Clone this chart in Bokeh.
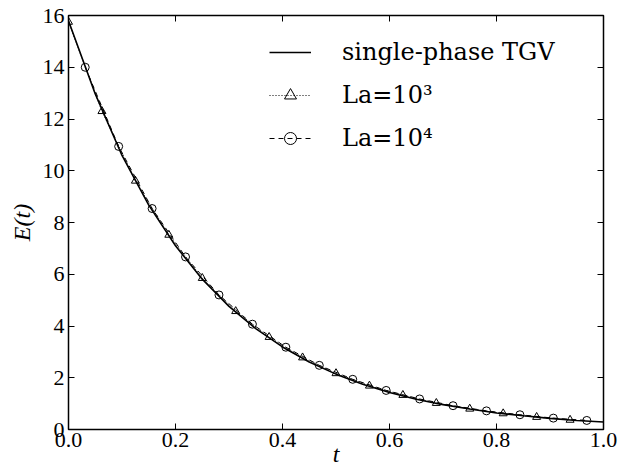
import math
from bokeh.plotting import figure
from bokeh.models import (Range1d, LinearAxis, Legend, LegendItem,
                          FixedTicker, CustomJSTickFormatter, PrintfTickFormatter)
from bokeh.embed import file_html
from bokeh.resources import INLINE

# ---- data ----
t_line = [0.0, 0.05, 0.10, 0.15, 0.20, 0.25, 0.30, 0.35, 0.40, 0.45, 0.50,
          0.55, 0.60, 0.65, 0.70, 0.75, 0.80, 0.85, 0.90, 0.95, 1.00]
E_line = [15.80, 12.97, 10.59, 8.67, 7.10, 5.81, 4.76, 3.90, 3.19, 2.61, 2.14,
          1.75, 1.43, 1.17, 0.96, 0.79, 0.64, 0.53, 0.43, 0.35, 0.29]

t_la3 = [0.0, 0.0625, 0.125, 0.1875, 0.25, 0.3125, 0.375, 0.4375, 0.5,
         0.5625, 0.625, 0.6875, 0.75, 0.8125, 0.875, 0.9375]
E_la3 = [15.75, 12.30, 9.61, 7.52, 5.85, 4.57, 3.57, 2.78, 2.17,
         1.69, 1.33, 1.02, 0.80, 0.62, 0.48, 0.37]

t_la4 = [0.03125, 0.09375, 0.15625, 0.21875, 0.28125, 0.34375, 0.40625, 0.46875,
         0.53125, 0.59375, 0.65625, 0.71875, 0.78125, 0.84375, 0.90625, 0.96875]
E_la4 = [14.00, 10.94, 8.54, 6.67, 5.20, 4.07, 3.18, 2.48,
         1.94, 1.51, 1.18, 0.92, 0.72, 0.57, 0.44, 0.35]

x_ticks = [0.0, 0.2, 0.4, 0.6, 0.8, 1.0]
y_ticks = [0, 2, 4, 6, 8, 10, 12, 14, 16]

labels = ["single-phase TGV", "La=10\u00b3", "La=10\u2074"]

TICK_FONT = "Liberation Serif"
AX_FONT = "Liberation Serif"
LEG_FONT = "DejaVu Serif"
TICK_SIZE = "22px"

p = figure(width=619, height=473, output_backend="svg", toolbar_location=None,
           x_range=Range1d(0, 1), y_range=Range1d(0, 16),
           min_border_left=68, min_border_right=16, min_border_top=15,
           min_border_bottom=44, x_axis_location=None, y_axis_location=None)
p.grid.visible = False
p.outline_line_color = "black"
p.outline_line_width = 1.5
p.background_fill_color = "white"
p.border_fill_color = "white"


def style_axis(ax, ticks, show_labels, standoff):
    ax.ticker = FixedTicker(ticks=ticks)
    ax.axis_line_color = None
    ax.major_tick_in = 6
    ax.major_tick_out = 0
    ax.major_tick_line_color = "black"
    ax.major_tick_line_width = 1
    ax.minor_tick_line_color = None
    ax.major_label_text_font = TICK_FONT
    ax.major_label_text_font_style = "normal"
    ax.major_label_text_color = "black"
    ax.major_label_standoff = standoff
    ax.axis_label_text_font = AX_FONT
    ax.axis_label_text_font_style = "italic"
    ax.axis_label_text_font_size = "24px"
    ax.axis_label_text_color = "black"
    if show_labels:
        ax.major_label_text_font_size = TICK_SIZE
    else:
        ax.major_label_text_font_size = "1px"
        ax.formatter = CustomJSTickFormatter(code="return ''")


xb = LinearAxis(axis_label="t", formatter=PrintfTickFormatter(format="%.1f"))
style_axis(xb, x_ticks, True, 3)
xb.axis_label_standoff = -9
p.add_layout(xb, "below")
yl = LinearAxis(axis_label="E(t)", formatter=PrintfTickFormatter(format="%d"))
style_axis(yl, y_ticks, True, 4)
yl.axis_label_standoff = 5
p.add_layout(yl, "left")
xt = LinearAxis()
style_axis(xt, x_ticks, False, 0)
p.add_layout(xt, "above")
yr = LinearAxis()
style_axis(yr, y_ticks, False, 0)
p.add_layout(yr, "right")

r_line = p.line(t_line, E_line, line_color="black", line_width=1.6)

r3l = p.line(t_la3, E_la3, line_color="black", line_width=1, line_dash="1 2")
r3m = p.scatter(t_la3, E_la3, marker="triangle", size=8, fill_color="white",
                fill_alpha=0, line_color="black", line_width=1)

r4l = p.line(t_la4, E_la4, line_color="black", line_width=1, line_dash="5 4")
r4m = p.scatter(t_la4, E_la4, marker="circle", size=8, fill_color="white",
                fill_alpha=0, line_color="black", line_width=1)

legend = Legend(items=[
    LegendItem(label=labels[0], renderers=[r_line]),
    LegendItem(label=labels[1], renderers=[r3l, r3m]),
    LegendItem(label=labels[2], renderers=[r4l, r4m]),
], location=(201, 276))
legend.border_line_color = None
legend.background_fill_alpha = 0
legend.padding = 0
legend.margin = 0
legend.glyph_width = 42
legend.glyph_height = 30
legend.label_height = 30
legend.spacing = 13
legend.label_standoff = 31
legend.label_text_font = LEG_FONT
legend.label_text_font_style = "normal"
legend.label_text_font_size = "24px"
legend.label_text_color = "black"
legend.label_text_baseline = "middle"
p.add_layout(legend, "center")

open("out.html", "w").write(file_html(p, INLINE))
